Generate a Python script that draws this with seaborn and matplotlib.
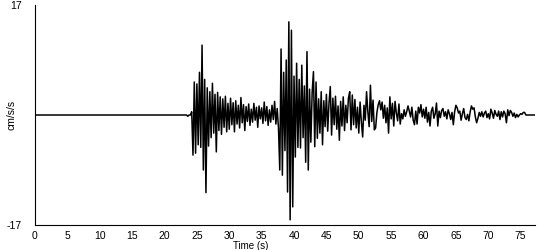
import numpy as np
import pandas as pd
import matplotlib
matplotlib.use("Agg")
import matplotlib.pyplot as plt
import seaborn as sns

# quiet pre-event record (time s, accel cm/s/s)
pre_time = [0.0, 23.4, 23.6, 23.8]
pre_accel = [0.0, 0.0, -0.2, 0.0]

# strong-motion part, sampled every 0.2 s starting at 24.0 s (one row per second)
event_start = 24.0
event_step = 0.2
event_accel = [
    0, 0.5, -6.2, 5.1, -5.9,          # 24
    4.8, -4.6, 6.6, -5.0, 10.8,       # 25
    -8.5, 5.5, -12.0, 4.2, -4.8,      # 26
    3.6, -3.5, 4.9, -2.8, 3.2,        # 27
    -5.7, 3.5, -2.4, 2.8, -3.0,       # 28
    2.5, -1.9, 2.9, -2.6, 1.8,        # 29
    -2.2, 2.6, -1.5, 1.9, -2.6,       # 30
    2.2, -1.4, 1.5, -2.0, 2.7,        # 31
    -1.2, 1.6, -2.4, 1.3, -1.0,       # 32
    1.7, -1.6, 0.9, -1.1, 1.8,        # 33
    -0.8, 1.2, -1.9, 1.4, -0.6,       # 34
    1.1, -1.3, 2.0, -0.9, 1.3,        # 35
    -1.6, 0.8, -1.1, 1.5, -0.7,       # 36
    2.1, -1.4, 1.0, -2.0, -8.5,       # 37
    10.2, -9.3, 6.6, -5.5, 8.5,       # 38
    -11.9, 14.4, -16.2, 13.1, -14.2,  # 39
    6.0, -6.5, 8.0, -5.0, 5.5,        # 40
    -5.1, 7.7, -3.5, 4.5, -7.3,       # 41
    9.8, -8.5, 4.0, -4.2, 3.5,        # 42
    6.7, -4.9, 5.1, -3.6, 2.5,        # 43
    -2.8, 3.6, -4.6, 2.2, -1.8,       # 44
    3.2, -2.5, 1.8, 4.4, -3.1,        # 45
    2.6, -1.5, 2.9, -2.2, 1.4,        # 46
    -3.9, 2.1, -1.7, 2.8, -2.4,       # 47
    1.5, -1.2, 2.6, 3.6, -2.3,        # 48
    3.1, -1.5, 2.4, -2.0, 1.2,        # 49
    -2.8, 2.0, -1.1, -3.4, 1.5,       # 50
    -0.8, 3.6, 0.5, -1.8, 4.6,        # 51
    -1.0, 2.3, -2.3, -2.0, 0.4,       # 52
    1.6, 2.2, 0.8, 2.0, -0.5,         # 53
    1.5, -1.2, 1.1, -2.8, 2.8,        # 54
    -0.6, 1.8, -1.7, 2.1, 0.3,        # 55
    -0.9, 1.7, -1.4, 0.2, -0.6,       # 56
    0.8, -0.2, 0.5, 1.4, 0.6,         # 57
    -0.3, 1.2, -0.8, -1.5, 0.6,       # 58
    -1.4, 1.2, 0.3, 1.6, -0.3,        # 59
    0.9, -0.5, 1.2, -1.1, 0.4,        # 60
    -1.7, 0.6, 1.2, -0.5, 0.2,        # 61
    1.85, -1.7, 0.6, -0.4, 0.7,       # 62
    1.0, -0.2, 0.5, -0.6, 0.8,        # 63
    0.2, -0.7, 0.4, -1.5, 0.5,        # 64
    1.5, 1.1, 0.3, 0.6, -0.8,         # 65
    0.2, 1.0, -0.4, -0.7, 0.1,        # 66
    -0.9, 0.5, 1.4, 0.9, 1.1,         # 67
    -0.3, -1.2, -0.5, 0.4, -0.2,      # 68
    0.5, -0.3, 0.3, 0.6, -0.4,        # 69
    0.2, -0.6, 0.9, 0.3, -0.5,        # 70
    0.7, 0.1, -0.2, 0.6, -0.7,        # 71
    0.5, -0.3, 0.6, 0.2, -1.2,        # 72
    0.8, -0.1, 0.7, 0.4, -0.2,        # 73
    0.3, -0.4, 0.1, -0.3, 0.0,        # 74
    0.2, 0.1, 0.4, 0.4, 0.0,          # 75
    0.0, 0.0, 0.0, 0.0, 0.0,          # 76
    0.0, 0.0,                         # 77
]

x_ticks = [0, 5, 10, 15, 20, 25, 30, 35, 40, 45, 50, 55, 60, 65, 70, 75]
y_limit = 17
x_label = "Time (s)"
y_label = "cm/s/s"

event_time = list(np.round(event_start + event_step * np.arange(len(event_accel)), 2))
df = pd.DataFrame({
    "time": pre_time + event_time,
    "accel": pre_accel + event_accel,
})

sns.set_style("white")
plt.rcParams["font.family"] = ["Liberation Sans", "DejaVu Sans"]
plt.rcParams["text.color"] = "black"
plt.rcParams["xtick.color"] = "black"
plt.rcParams["ytick.color"] = "black"
plt.rcParams["axes.labelcolor"] = "black"

fig = plt.figure(figsize=(5.5, 2.5), dpi=100)
ax = fig.add_axes([0.0636, 0.1, 0.909, 0.88])

sns.lineplot(data=df, x="time", y="accel", ax=ax, color="black",
             linewidth=1.1, estimator=None, sort=False)

ax.set_xlim(0, 77.2)
ax.set_ylim(-y_limit, y_limit)
ax.set_xticks(x_ticks)
ax.set_xticklabels([str(t) for t in x_ticks], fontsize=7.5)
ax.set_yticks([-y_limit, y_limit])
ax.set_yticklabels([str(-y_limit), str(y_limit)], fontsize=7.5)
ax.tick_params(axis="x", direction="out", length=3, width=0.8, pad=1.5,
               color="black", labelcolor="black")
ax.tick_params(axis="y", direction="out", length=3.6, width=0.8, pad=6,
               color="black", labelcolor="black")
ax.yaxis.get_major_ticks()[1].tick1line.set_visible(False)
ax.set_xlabel(x_label, fontsize=7, va="top", color="black")
ax.xaxis.set_label_coords(0.432, -0.072)
ax.set_ylabel(y_label, fontsize=7.5, color="black")
ax.yaxis.set_label_coords(-0.036, 0.5)

for side in ["top", "right"]:
    ax.spines[side].set_visible(False)
for side in ["left", "bottom"]:
    ax.spines[side].set_color("black")
    ax.spines[side].set_linewidth(0.8)

fig.savefig("out.png", dpi=100, facecolor="white")
